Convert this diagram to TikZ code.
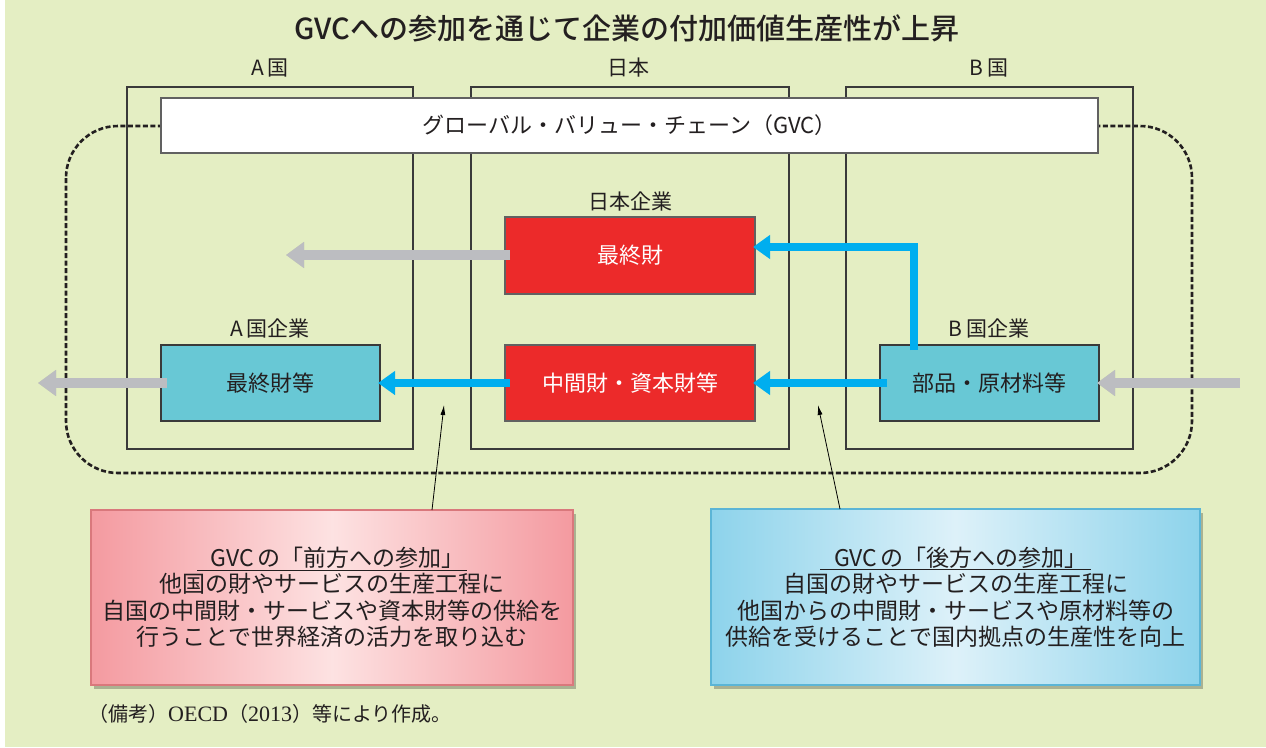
\documentclass[tikz,border=0pt]{standalone}
\usepackage{fontspec}
\setmainfont{Noto Sans CJK JP}
\newfontfamily\lser{Liberation Serif}
\IfFontExistsTF{Noto Sans CJK JP Medium}{\newfontfamily\titlefont{Noto Sans CJK JP Medium}}{\newfontfamily\titlefont[FakeBold=1.6]{Noto Sans CJK JP}}
\usetikzlibrary{arrows.meta,shadows,calc}
\definecolor{bgc}{HTML}{E4EEC3}
\definecolor{boxline}{HTML}{3A3A3A}
\definecolor{txt}{HTML}{231F20}
\definecolor{redc}{HTML}{EC2A2A}
\definecolor{cyanc}{HTML}{68C8D5}
\definecolor{bluea}{HTML}{00AEEF}
\definecolor{graya}{HTML}{BCBDC1}
\definecolor{pedge}{HTML}{F49AA0}
\definecolor{pmid}{HTML}{FDE2E2}
\definecolor{pline}{HTML}{D9787C}
\definecolor{bedge}{HTML}{8DD3EB}
\definecolor{bmid}{HTML}{DDF1F9}
\definecolor{bline}{HTML}{5BB5D6}
\begin{document}
\begin{tikzpicture}[x=1pt,y=-1pt,
  country/.style={draw=boxline,line width=1.3pt,inner sep=0pt,outer sep=0pt},
  lbl/.style={text=txt,font=\fontsize{21}{24}\selectfont,inner sep=0pt},
  redbox/.style={draw=boxline!80,line width=1.4pt,fill=redc,text=white,inner sep=0pt,outer sep=0pt,minimum width=250pt,font=\fontsize{22}{26}\selectfont},
  cybox/.style={draw=boxline,line width=1.4pt,fill=cyanc,text=txt,inner sep=0pt,outer sep=0pt,minimum width=219pt,minimum height=76pt,font=\fontsize{22}{26}\selectfont},
  grayarrow/.style={draw=graya,line width=10pt,-{Triangle[length=18pt,width=25pt]}},
  grayshadow/.style={draw=black,opacity=0.12,line width=10pt,-{Triangle[length=18pt,width=25pt]}},
  bluearrow/.style={draw=bluea,line width=7.5pt,-{Triangle[length=17pt,width=23pt]}},
  callout/.style={line width=1.2pt,inner sep=0pt,outer sep=0pt,text=txt,align=center,font=\fontsize{23}{26.5}\selectfont,drop shadow={shadow xshift=3pt,shadow yshift=-4pt,opacity=0.25,fill=black}},
  pointer/.style={draw=black,line width=0.8pt,-{Latex[length=10pt,width=5pt]}}
]
\useasboundingbox (0,0) rectangle (1266,747);
\fill[bgc] (0,0) rectangle (1266,747);
\fill[white] (0,0) rectangle (5,747);

% title
\node[text=txt,font=\fontsize{29}{32}\selectfont\titlefont,inner sep=0pt] (title) at (627,28) {GVCへの参加を通じて企業の付加価値生産性が上昇};

% dashed GVC boundary
\draw[txt,line width=2.6pt,dash pattern=on 5pt off 2.5pt,rounded corners=52pt] (66,126) rectangle (1192,473);

% country boxes
\node[country,minimum width=286pt,minimum height=362pt] (cA) at (270,268) {};
\node[country,minimum width=318pt,minimum height=362pt] (cJ) at (630,268) {};
\node[country,minimum width=287pt,minimum height=362pt] (cB) at (989.5,268) {};
\node[lbl] (lA) at (270,68) {A\,国};
\node[lbl] (lJ) at (628,68) {日本};
\node[lbl] (lB) at (989,68) {B\,国};

% GVC box
\node[draw=boxline!80,line width=1.4pt,fill=white,inner sep=0pt,minimum width=937pt,minimum height=55pt,text=txt,font=\fontsize{22}{25}\selectfont] (gvc) at (629.5,125.5) {グローバル・バリュー・チェーン（GVC）};

% company labels
\node[lbl] (jc) at (630,201) {日本企業};
\node[lbl] (ac) at (270,328) {A\,国企業};
\node[lbl] (bc) at (989,328) {B\,国企業};

% goods boxes
\node[redbox,minimum height=77pt] (fin) at (630,255.5) {最終財};
\node[redbox,minimum height=76pt] (mid) at (630,383) {中間財・資本財等};
\node[cybox] (aA) at (270.5,383) {最終財等};
\node[cybox] (bB) at (989.5,383) {部品・原材料等};

% free ends of gray arrows
\coordinate (g1) at (286,255);
\coordinate (g2) at (38,383);
\coordinate (g3) at (1240,383);

% gray arrow shadows
\begin{scope}[shift={(2,3)}]
\draw[grayshadow] ([xshift=5pt]fin.west |- g1) -- (g1);
\draw[grayshadow] ([xshift=6pt]aA.west) -- (g2);
\draw[grayshadow] (g3) -- ([xshift=-2pt]bB.east);
\end{scope}
% gray arrows
\draw[grayarrow] ([xshift=5pt]fin.west |- g1) -- (g1);
\draw[grayarrow] ([xshift=6pt]aA.west) -- (g2);
\draw[grayarrow] (g3) -- ([xshift=-2pt]bB.east);

% blue arrows
\draw[bluearrow] ([xshift=7pt]bB.west) -- ([xshift=-2pt]mid.east);
\draw[bluearrow] ([xshift=5pt]mid.west) -- ([xshift=-2pt]aA.east);
\draw[bluearrow] ($(bB.north)+(-75.5,5)$) |- ([xshift=-2pt,yshift=8.5pt]fin.east);

% callouts
\node[callout,draw=pline,left color=pedge,right color=pedge,middle color=pmid,minimum width=482pt,minimum height=175pt] (pink) at (332,597.5)
 {\underline{\hspace{14pt}GVC\hspace{3pt}の「前方への参加」\hspace{3pt}}\\
  他国の財やサービスの生産工程に\\
  自国の中間財・サービスや資本財等の供給を\\
  行うことで世界経済の活力を取り込む};
\node[callout,draw=bline,left color=bedge,right color=bedge,middle color=bmid,minimum width=489pt,minimum height=176pt] (blue) at (955.5,597)
 {\underline{\hspace{14pt}GVC\hspace{3pt}の「後方への参加」\hspace{3pt}}\\
  自国の財やサービスの生産工程に\\
  他国からの中間財・サービスや原材料等の\\
  供給を受けることで国内拠点の生産性を向上};

% pointers
\coordinate (tL) at (444,405);
\coordinate (tR) at (818,405);
\draw[pointer] ([xshift=100pt]pink.north) -- (tL);
\draw[pointer] ([xshift=-115.5pt]blue.north) -- (tR);

% note
\node[anchor=west,text=txt,inner sep=0pt,font=\fontsize{20}{24}\selectfont] (note) at (88,714) {（備考）{\lser\fontsize{22}{24}\selectfont OECD}（{\lser\fontsize{22}{24}\selectfont 2013}）等により作成。};
\end{tikzpicture}
\end{document}
